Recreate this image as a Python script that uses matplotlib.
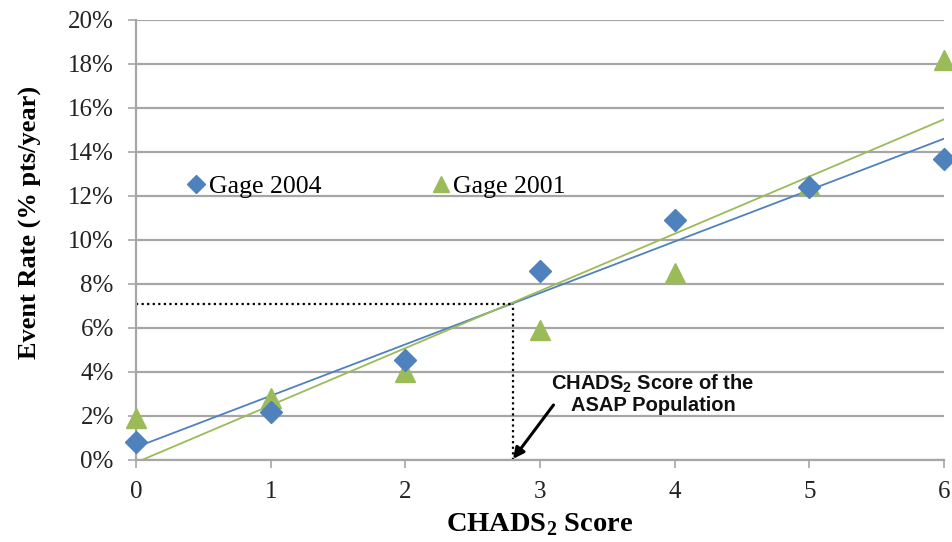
import matplotlib.pyplot as plt
import numpy as np

# CHADS2 score vs annual event rate (%)
scores = [0, 1, 2, 3, 4, 5, 6]
gage_2004 = [0.8, 2.2, 4.55, 8.6, 10.9, 12.4, 13.7]
gage_2001 = [1.9, 2.8, 4.0, 5.9, 8.5, 12.5, 18.2]

# mean CHADS2 score of the ASAP population and its read-off rate
asap_score = 2.8
asap_rate = 7.1

blue = "#4F81BD"
green = "#9BBB59"
grid_gray = "#A6A6A6"

plt.rcParams["font.family"] = ["Liberation Serif", "DejaVu Serif"]
# subscripts in the same faces as the surrounding text
plt.rcParams["mathtext.fontset"] = "custom"
plt.rcParams["mathtext.bf"] = "Liberation Serif:bold"
plt.rcParams["mathtext.sf"] = "Liberation Sans:bold"

fig = plt.figure(figsize=(9.53, 5.42), dpi=100)
ax = fig.add_axes([0.1427, 0.1513, 0.8479, 0.8118])

ax.set_xlim(0, 6)
ax.set_ylim(0, 20)
ax.set_yticks(np.arange(0, 21, 2))
ax.set_yticklabels([f"{v}%" for v in range(0, 21, 2)])
ax.set_xticks(scores)

ax.grid(axis="y", color=grid_gray, linewidth=1.6)
ax.set_axisbelow(True)
for side in ["top", "right"]:
    ax.spines[side].set_visible(False)
for side in ["left", "bottom"]:
    ax.spines[side].set_color(grid_gray)
    ax.spines[side].set_linewidth(1.6)
ax.tick_params(axis="both", direction="out", length=6, width=1.2,
               color=grid_gray, labelsize=18, labelcolor="#222222")
ax.tick_params(axis="x", pad=9)
ax.tick_params(axis="y", pad=10)

ax.plot(scores, gage_2001, linestyle="none", marker="^", markersize=14,
        color=green, label="Gage 2001", zorder=3, clip_on=False)
ax.plot(scores, gage_2004, linestyle="none", marker="D", markersize=11,
        color=blue, label="Gage 2004", zorder=4, clip_on=False)

# linear trendlines for each series
xs = np.array([0, 6])
for vals, col in [(gage_2004, blue), (gage_2001, green)]:
    m, b = np.polyfit(scores, vals, 1)
    ys = m * xs + b
    x0 = xs[0] if ys[0] >= 0 else -b / m
    ax.plot([x0, xs[1]], [max(ys[0], 0), ys[1]], color=col, linewidth=1.3, zorder=2)

# dotted guide lines to the ASAP population score
ax.plot([0, asap_score], [asap_rate, asap_rate], color="black",
        linestyle=(0, (1, 1.5)), linewidth=1.6, zorder=2)
ax.plot([asap_score, asap_score], [0, asap_rate], color="black",
        linestyle=(0, (1, 1.5)), linewidth=1.6, zorder=2)

ax.text(3.84, 3.0, "CHADS$_\\mathsf{2}$ Score of the\nASAP Population",
        ha="center", va="center", fontsize=14.5, fontweight="bold",
        family="Liberation Sans", linespacing=1.05, color="#111111")
ax.annotate("", xy=(asap_score, 0.05), xytext=(3.1, 2.5),
            arrowprops=dict(arrowstyle="-|>", color="black", lw=2.2,
                            mutation_scale=16, shrinkA=0, shrinkB=0))

handles, labels = ax.get_legend_handles_labels()
ax.legend(handles[::-1], labels[::-1], ncol=2, frameon=False,
          loc="center left", bbox_to_anchor=(0.031, 0.621),
          fontsize=18.5, handletextpad=0.0, columnspacing=4.2,
          handlelength=0.95, markerscale=0.82)

ax.set_xlabel("CHADS$_\\mathbf{2}$ Score", fontsize=20.5, fontweight="bold", labelpad=6)
ax.set_ylabel("Event Rate (% pts/year)", fontsize=19, fontweight="bold")
ax.yaxis.set_label_coords(-0.116, 0.54)

fig.savefig("out.png", dpi=100)
